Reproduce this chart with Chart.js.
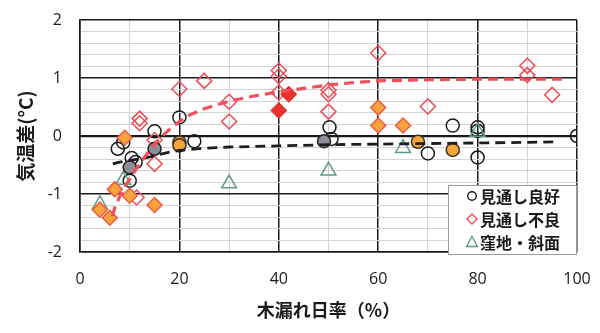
<!DOCTYPE html>
<html>
<head>
<meta charset="utf-8">
<script src="https://cdn.jsdelivr.net/npm/chart.js@4/dist/chart.umd.min.js"></script>
<style>
  html, body { margin: 0; padding: 0; background: #fff; }
  #wrap { width: 600px; height: 333px; }
</style>
</head>
<body>
<div id="wrap"><canvas id="c" width="600" height="333"></canvas></div>
<script>
// 木漏れ日率 (%) vs 気温差 (°C)

// 見通し良好 (open circles)
const goodX = [7.6, 8.7, 10.4, 11.2, 10.0, 15.0, 20.0, 23.0, 50.2, 50.6, 70.0, 75.0, 80.0, 80.0, 80.0, 100.0];
const goodY = [-0.22, -0.11, -0.38, -0.45, -0.77, 0.08, 0.32, -0.09, 0.15, -0.05, -0.30, 0.18, 0.15, 0.09, -0.37, 0.00];

// 見通し不良 (open diamonds)
const poorX = [12.0, 12.0, 15.0, 15.0, 11.4, 20.0, 25.0, 30.0, 30.0, 40.0, 40.0, 40.0, 50.0, 50.0, 50.0, 60.0, 70.0, 90.0, 90.0, 95.0];
const poorY = [0.30, 0.22, -0.07, -0.48, -1.06, 0.81, 0.95, 0.59, 0.25, 1.13, 1.03, 0.75, 0.79, 0.72, 0.42, 1.43, 0.51, 1.21, 1.05, 0.71];

// 窪地・斜面 (open triangles)
const hollowX = [4.0, 8.7, 30.0, 50.0, 65.0, 80.0];
const hollowY = [-1.18, -0.76, -0.82, -0.60, -0.21, 0.07];

// filled markers
const grayCircX = [10.0, 15.0, 49.1];
const grayCircY = [-0.54, -0.22, -0.09];
const orangeCircX = [20.0, 20.0, 68.0, 75.0];
const orangeCircY = [-0.11, -0.16, -0.10, -0.24];
const orangeDiaX = [9.0, 7.0, 10.0, 15.0, 4.0, 6.0, 60.0, 60.0, 65.0];
const orangeDiaY = [-0.03, -0.92, -1.03, -1.19, -1.27, -1.41, 0.49, 0.18, 0.18];
const redDiaX = [40.0, 42.0];
const redDiaY = [0.44, 0.72];

// dashed trend curves
const poorTrendX = [6.5, 7, 8, 9, 10, 12, 14, 16, 18, 20, 22, 25, 30, 35, 40, 45, 50, 55, 60, 70, 80, 90, 98];
const poorTrendY = [-1.38, -1.24, -1.04, -0.88, -0.74, -0.48, -0.25, -0.04, 0.11, 0.25, 0.36, 0.47, 0.60, 0.69, 0.76, 0.82, 0.88, 0.92, 0.95, 0.97, 0.98, 0.98, 0.98];
const goodTrendX = [6.6, 8, 10, 13, 16, 18, 20, 25, 30, 40, 50, 60, 70, 80, 90, 96];
const goodTrendY = [-0.48, -0.45, -0.42, -0.38, -0.32, -0.28, -0.25, -0.21, -0.19, -0.17, -0.15, -0.14, -0.13, -0.12, -0.11, -0.10];

// axis ticks
const xMajorTicks = [0, 20, 40, 60, 80, 100];
const yMajorTicks = [-2, -1, 0, 1, 2];

const legendItems = ['見通し良好', '見通し不良', '窪地・斜面'];

const pts = (xs, ys) => xs.map((x, i) => ({ x: x, y: ys[i] }));

const RED = '#ef4b55';
const GREEN = '#5c9c80';

const datasets = [
  { label: 'trendPoor', data: pts(poorTrendX, poorTrendY), showLine: true, pointRadius: 0,
    borderColor: '#f0505a', borderWidth: 3.2, borderDash: [10, 6], order: 0 },
  { label: 'trendGood', data: pts(goodTrendX, goodTrendY), showLine: true, pointRadius: 0,
    borderColor: '#1e1e1e', borderWidth: 2.8, borderDash: [10, 6], order: 1 },
  { label: 'redDia', data: pts(redDiaX, redDiaY), pointStyle: 'rectRot', pointRadius: 7.5,
    backgroundColor: '#e8302c', borderColor: '#e8302c', borderWidth: 1.5, order: 2 },
  { label: 'orangeDia', data: pts(orangeDiaX, orangeDiaY), pointStyle: 'rectRot', pointRadius: 7.5,
    backgroundColor: '#f8a43c', borderColor: '#ee5a4a', borderWidth: 1.5, order: 3 },
  { label: 'orangeCirc', data: pts(orangeCircX, orangeCircY), pointStyle: 'circle', pointRadius: 6.5,
    backgroundColor: '#f6a73c', borderColor: '#3a3026', borderWidth: 1.5, order: 4 },
  { label: 'grayCirc', data: pts(grayCircX, grayCircY), pointStyle: 'circle', pointRadius: 6.5,
    backgroundColor: '#8e8c94', borderColor: '#222', borderWidth: 1.5, order: 5 },
  { label: legendItems[2], data: pts(hollowX, hollowY), pointStyle: 'triangle', pointRadius: 8.5,
    backgroundColor: 'rgba(255,255,255,0)', borderColor: GREEN, borderWidth: 1.5, order: 6 },
  { label: legendItems[1], data: pts(poorX, poorY), pointStyle: 'rectRot', pointRadius: 7.5,
    backgroundColor: 'rgba(255,255,255,0)', borderColor: RED, borderWidth: 1.5, order: 7 },
  { label: legendItems[0], data: pts(goodX, goodY), pointStyle: 'circle', pointRadius: 6.5,
    backgroundColor: 'rgba(255,255,255,0)', borderColor: '#1a1a1a', borderWidth: 1.5, order: 8 }
];

// legend box drawn inside the plot, lower right
const boxLegend = {
  id: 'boxLegend',
  afterDraw(chart) {
    const ctx = chart.ctx;
    const a = chart.chartArea;
    const w = 129, h = 70;
    const x0 = a.right - w, y0 = a.bottom + 3 - h;
    ctx.save();
    ctx.fillStyle = '#fff';
    ctx.fillRect(x0, y0, w, h);
    ctx.strokeStyle = '#9a9a9a';
    ctx.lineWidth = 1;
    ctx.strokeRect(x0 + 0.5, y0 + 0.5, w - 1, h - 1);
    const sx = x0 + 24;
    const rows = [y0 + 11, y0 + 34, y0 + 57];
    ctx.lineWidth = 1.4;
    // circle
    ctx.strokeStyle = '#1a1a1a';
    ctx.beginPath(); ctx.arc(sx, rows[0], 4.3, 0, Math.PI * 2); ctx.stroke();
    // diamond
    ctx.strokeStyle = RED;
    ctx.beginPath();
    ctx.moveTo(sx, rows[1] - 5); ctx.lineTo(sx + 5, rows[1]); ctx.lineTo(sx, rows[1] + 5); ctx.lineTo(sx - 5, rows[1]);
    ctx.closePath(); ctx.stroke();
    // triangle
    ctx.strokeStyle = GREEN;
    ctx.beginPath();
    ctx.moveTo(sx, rows[2] - 5.5); ctx.lineTo(sx + 5.5, rows[2] + 4.5); ctx.lineTo(sx - 5.5, rows[2] + 4.5);
    ctx.closePath(); ctx.stroke();
    ctx.fillStyle = '#1a1a1a';
    ctx.font = 'bold 16px "Noto Sans CJK JP"';
    ctx.textBaseline = 'middle';
    ctx.textAlign = 'left';
    legendItems.forEach((t, i) => ctx.fillText(t, sx + 8, rows[i] + 1));
    ctx.restore();
  }
};

const isMajorX = v => Math.abs(v % 20) < 1e-6;
const isMajorY = v => Math.abs(v - Math.round(v)) < 1e-6;

new Chart(document.getElementById('c'), {
  type: 'scatter',
  data: { datasets },
  options: {
    responsive: false,
    animation: false,
    events: [],
    layout: { padding: { top: 20, right: 23, left: 0, bottom: 0 } },
    plugins: { legend: { display: false }, tooltip: { enabled: false } },
    scales: {
      x: {
        type: 'linear', min: 0, max: 100,
        afterFit: s => { s.height = 81; },
        afterBuildTicks: s => { s.ticks = Array.from({ length: 11 }, (_, i) => ({ value: i * 10 })); },
        ticks: {
          autoSkip: false, maxRotation: 0, padding: 0, color: '#1a1a1a',
          font: { family: '"Open Sans"', size: 16 },
          callback: v => (xMajorTicks.includes(Math.round(v)) ? String(Math.round(v)) : '')
        },
        grid: {
          drawTicks: true, tickLength: 18, tickColor: 'rgba(0,0,0,0)',
          color: c => (isMajorX(c.tick.value) ? '#1a1a1a' : '#d4d4d4'),
          lineWidth: c => (isMajorX(c.tick.value) ? 1.5 : 1)
        },
        border: { display: true, color: '#1a1a1a', width: 1.5 },
        title: {
          display: true, text: '木漏れ日率（%）', color: '#1a1a1a',
          font: { family: '"Noto Sans CJK JP"', size: 18, weight: 'bold' },
          padding: { top: 0, bottom: 12 }
        }
      },
      y: {
        type: 'linear', min: -2, max: 2,
        afterFit: s => { s.width = 80; },
        afterBuildTicks: s => { s.ticks = Array.from({ length: 21 }, (_, i) => ({ value: Math.round((-2 + i * 0.2) * 10) / 10 })); },
        ticks: {
          autoSkip: false, padding: 0, color: '#1a1a1a',
          font: { family: '"Open Sans"', size: 16 },
          callback: v => (isMajorY(v) && yMajorTicks.includes(Math.round(v)) ? String(Math.round(v)) : '')
        },
        grid: {
          drawTicks: true, tickLength: 18, tickColor: 'rgba(0,0,0,0)',
          color: c => (isMajorY(c.tick.value) ? '#1a1a1a' : '#d4d4d4'),
          lineWidth: c => (Math.abs(c.tick.value) < 1e-6 ? 2.2 : (isMajorY(c.tick.value) ? 1.5 : 1))
        },
        border: { display: true, color: '#1a1a1a', width: 1.5 },
        title: {
          display: true, text: '気温差(°C)', color: '#1a1a1a',
          font: { family: '"Noto Sans CJK JP"', size: 19, weight: 'bold' },
          padding: { top: 14, bottom: 0 }
        }
      }
    }
  },
  plugins: [boxLegend]
});
</script>
</body>
</html>
